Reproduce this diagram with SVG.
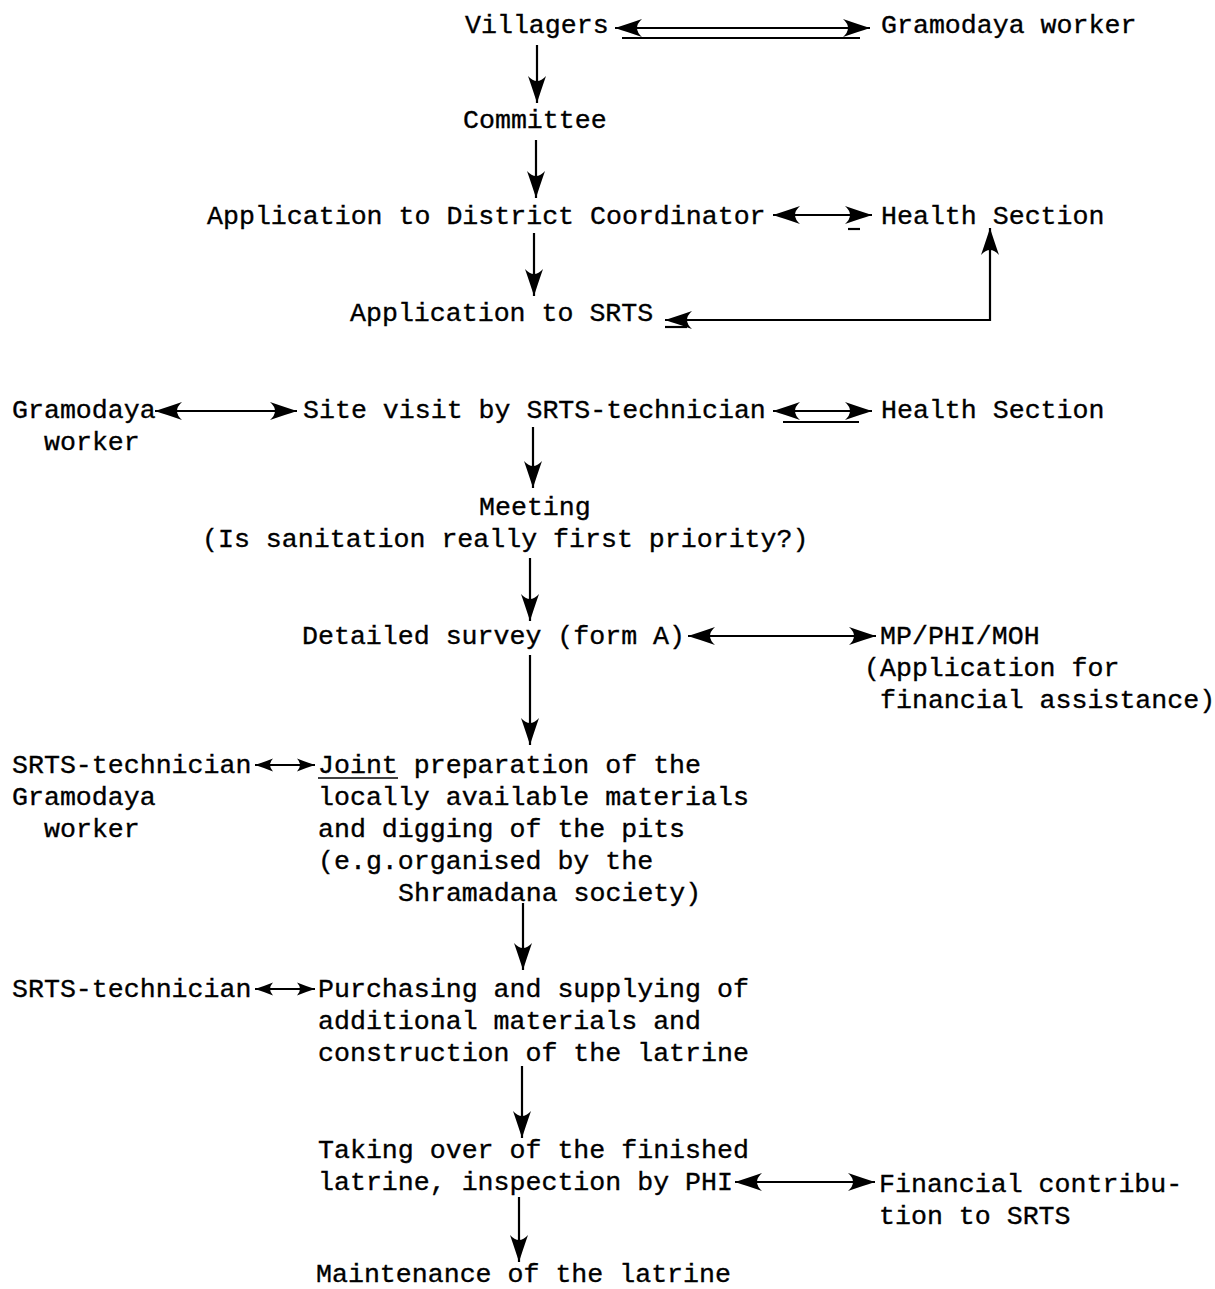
<svg xmlns="http://www.w3.org/2000/svg" width="1215" height="1289" viewBox="0 0 1215 1289">
<style>
text{font-family:"Liberation Mono","Courier New",monospace;font-size:26.6px;fill:#000;stroke:#000;stroke-width:0.35px;white-space:pre}
.c line,.c polyline{stroke:#000;stroke-width:2.2;fill:none}
.c .a{marker-end:url(#ah);marker-start:url(#ah)}
.c .d{marker-end:url(#ah)}
.c .s{marker-end:url(#sh);marker-start:url(#sh)}
</style>
<defs>
<marker id="ah" viewBox="-28 -10 30 20" refX="0" refY="0" markerWidth="30" markerHeight="20" markerUnits="userSpaceOnUse" orient="auto-start-reverse">
<path d="M0,0 Q-11,-3.5 -27,-9 Q-17,0 -27,9 Q-11,3.5 0,0 Z" fill="#000"/>
</marker>
<marker id="sh" viewBox="-19 -7 21 14" refX="0" refY="0" markerWidth="21" markerHeight="14" markerUnits="userSpaceOnUse" orient="auto-start-reverse">
<path d="M0,0 Q-8,-2.5 -18,-6.5 Q-12,0 -18,6.5 Q-8,2.5 0,0 Z" fill="#000"/>
</marker>
</defs>
<rect width="1215" height="1289" fill="#fff"/>
<g class="c" id="connectors">
<line class="a" x1="615" y1="28" x2="870" y2="28"/>
<line x1="622" y1="38" x2="860" y2="38"/>
<line class="d" x1="537" y1="45" x2="537" y2="103"/>
<line class="d" x1="536" y1="140" x2="536" y2="198"/>
<line class="a" x1="773" y1="215" x2="872" y2="215"/>
<line x1="848" y1="229" x2="860" y2="229"/>
<line class="d" x1="534" y1="233" x2="534" y2="296"/>
<polyline class="a" points="665,320 990,320 990,228"/>
<line x1="665" y1="327" x2="687" y2="327"/>
<line class="a" x1="155" y1="411" x2="297" y2="411"/>
<line class="a" x1="773" y1="411" x2="872" y2="411"/>
<line x1="783" y1="422" x2="859" y2="422"/>
<line class="d" x1="533" y1="427" x2="533" y2="488"/>
<line class="d" x1="530" y1="558" x2="530" y2="621"/>
<line class="a" x1="688" y1="636" x2="876" y2="636"/>
<line class="d" x1="530" y1="655" x2="530" y2="745"/>
<line class="s" x1="255" y1="765" x2="315" y2="765"/>
<line x1="318" y1="778" x2="398" y2="778" style="stroke-width:1.5"/>
<line class="d" x1="523" y1="903" x2="523" y2="970"/>
<line class="s" x1="255" y1="989" x2="315" y2="989"/>
<line class="d" x1="522" y1="1066" x2="522" y2="1138"/>
<line class="a" x1="735" y1="1182" x2="875" y2="1182"/>
<line class="d" x1="519" y1="1197" x2="519" y2="1262"/>
</g>
<g id="n-villagers"><text x="465" y="33">Villagers</text></g>
<g id="n-gramodaya1"><text x="881" y="33">Gramodaya worker</text></g>
<g id="n-committee"><text x="463" y="128">Committee</text></g>
<g id="n-appdistrict"><text x="207" y="224">Application to District Coordinator</text></g>
<g id="n-health1"><text x="881" y="224">Health Section</text></g>
<g id="n-appsrts"><text x="350" y="321">Application to SRTS</text></g>
<g id="n-gramodaya2"><text x="12" y="418">Gramodaya</text><text x="44" y="450">worker</text></g>
<g id="n-sitevisit"><text x="303" y="418">Site visit by SRTS-technician</text></g>
<g id="n-health2"><text x="881" y="418">Health Section</text></g>
<g id="n-meeting"><text x="479" y="515">Meeting</text><text x="202" y="547">(Is sanitation really first priority?)</text></g>
<g id="n-survey"><text x="302" y="644">Detailed survey (form A)</text></g>
<g id="n-mp"><text x="880" y="644">MP/PHI/MOH</text><text x="864" y="676">(Application for</text><text x="880" y="708">financial assistance)</text></g>
<g id="n-tech1"><text x="12" y="773">SRTS-technician</text><text x="12" y="805">Gramodaya</text><text x="44" y="837">worker</text></g>
<g id="n-joint"><text x="318" y="773">Joint preparation of the</text><text x="318" y="805">locally available materials</text><text x="318" y="837">and digging of the pits</text><text x="318" y="869">(e.g.organised by the</text><text x="398" y="901">Shramadana society)</text></g>
<g id="n-tech2"><text x="12" y="997">SRTS-technician</text></g>
<g id="n-purchasing"><text x="318" y="997">Purchasing and supplying of</text><text x="318" y="1029">additional materials and</text><text x="318" y="1061">construction of the latrine</text></g>
<g id="n-taking"><text x="318" y="1158">Taking over of the finished</text><text x="318" y="1190">latrine, inspection by PHI</text></g>
<g id="n-financial"><text x="879" y="1192">Financial contribu-</text><text x="879" y="1224">tion to SRTS</text></g>
<g id="n-maintenance"><text x="316" y="1282">Maintenance of the latrine</text></g>
</svg>
